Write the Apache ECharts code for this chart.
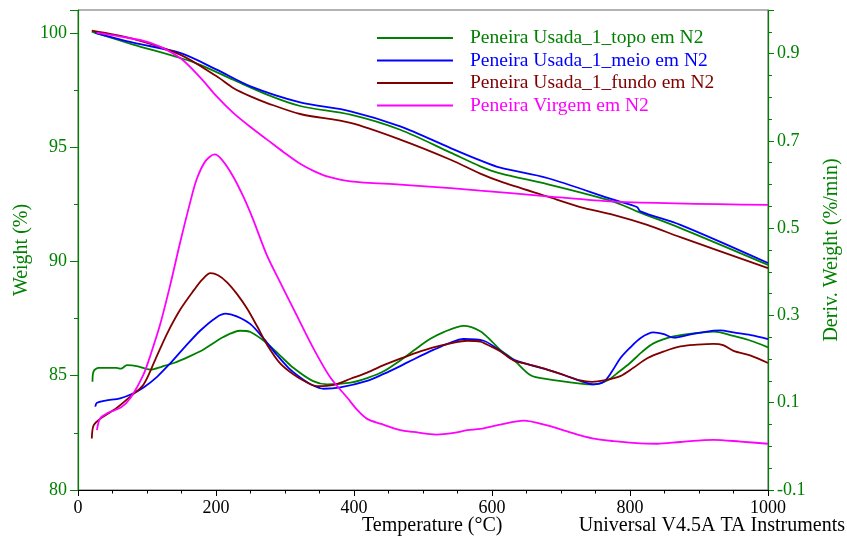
<!DOCTYPE html>
<html>
<head>
<meta charset="utf-8">
<script src="https://cdn.jsdelivr.net/npm/echarts@6/dist/echarts.min.js"></script>
<style>
  html, body { margin: 0; padding: 0; background: #fff; }
  #chart { width: 847px; height: 542px; }
</style>
</head>
<body>
<div id="chart"></div>
<script>
// TGA runs in N2: weight (%) on the left axis, derivative weight (%/min) on the right axis.
const seriesNames = [
  'Peneira Usada_1_topo em N2',
  'Peneira Usada_1_meio em N2',
  'Peneira Usada_1_fundo em N2',
  'Peneira Virgem em N2'
];
const seriesColors = ['#008000', '#0000ff', '#800000', '#ff00ff'];

// [temperature °C, weight %]
const topoWeight = [[20,100.05],[25,100.0],[80,99.49],[148,98.9],[177,98.6],[225,97.95],[274,97.3],[322,96.8],[395,96.42],[467,95.76],[540,94.76],[583,94.16],[612,93.85],[680,93.38],[776,92.62],[810,92.19],[873,91.46],[1000,89.85]];
const meioWeight = [[25,100.0],[80,99.57],[148,99.12],[201,98.39],[250,97.66],[322,96.96],[395,96.57],[467,95.91],[540,94.96],[583,94.42],[612,94.1],[680,93.65],[776,92.7],[810,92.38],[815,92.19],[873,91.6],[1000,89.93]];
const fundoWeight = [[20,100.1],[80,99.74],[148,99.05],[201,98.1],[225,97.59],[250,97.22],[274,96.93],[322,96.45],[395,96.06],[467,95.33],[540,94.45],[583,93.84],[612,93.5],[680,92.84],[728,92.38],[776,92.04],[825,91.6],[873,91.06],[1000,89.71]];
const virgemWeight = [[27,100.0],[60,99.85],[105,99.56],[148,98.9],[177,98.05],[201,97.22],[225,96.5],[250,95.88],[274,95.33],[298,94.78],[322,94.27],[342,93.95],[361,93.72],[395,93.5],[467,93.36],[540,93.21],[583,93.1],[680,92.85],[776,92.62],[1000,92.47]];

// [temperature °C, deriv. weight %/min]
const topoDeriv = [[21,0.148],[22.6,0.172],[30,0.18],[56,0.18],[62,0.178],[71,0.186],[85,0.184],[105,0.176],[122,0.183],[139,0.191],[160,0.205],[182,0.222],[210,0.25],[235,0.265],[250,0.262],[274,0.236],[293,0.208],[312,0.18],[340,0.15],[361,0.142],[395,0.146],[420,0.157],[443,0.172],[467,0.197],[491,0.225],[510,0.246],[530,0.262],[559,0.276],[583,0.264],[600,0.24],[612,0.221],[631,0.199],[656,0.163],[680,0.154],[728,0.144],[747,0.142],[767,0.151],[785,0.172],[800,0.191],[817,0.216],[834,0.236],[863,0.252],[892,0.259],[921,0.263],[931,0.261],[950,0.253],[975,0.242],[1000,0.227]];
const meioDeriv = [[25,0.091],[27.5,0.1],[40,0.105],[61,0.11],[78,0.12],[95,0.135],[115,0.16],[134,0.191],[155,0.228],[177,0.265],[200,0.295],[214,0.304],[230,0.298],[250,0.28],[270,0.245],[288,0.21],[305,0.18],[322,0.158],[340,0.14],[356,0.132],[380,0.135],[419,0.15],[443,0.166],[467,0.184],[491,0.203],[515,0.221],[537,0.236],[559,0.246],[588,0.242],[612,0.219],[631,0.199],[655,0.187],[680,0.176],[705,0.163],[728,0.15],[747,0.142],[762,0.148],[774,0.172],[786,0.202],[800,0.226],[815,0.248],[834,0.261],[849,0.257],[863,0.249],[892,0.258],[921,0.265],[931,0.266],[950,0.261],[975,0.255],[1000,0.246]];
const fundoDeriv = [[20,0.018],[22.6,0.048],[32,0.063],[56,0.088],[75,0.113],[95,0.142],[112,0.199],[129,0.258],[148,0.313],[168,0.358],[180,0.382],[192,0.397],[203,0.392],[216,0.376],[230,0.35],[245,0.316],[260,0.274],[274,0.233],[293,0.19],[312,0.165],[330,0.148],[346,0.138],[371,0.141],[395,0.155],[419,0.169],[443,0.186],[467,0.201],[491,0.215],[515,0.227],[540,0.236],[564,0.242],[583,0.24],[597,0.23],[612,0.218],[631,0.197],[655,0.187],[680,0.176],[705,0.163],[728,0.151],[745,0.148],[762,0.151],[786,0.161],[805,0.18],[825,0.202],[850,0.218],[873,0.229],[897,0.233],[921,0.235],[935,0.232],[950,0.219],[975,0.208],[1000,0.191]];
const virgemDeriv = [[27.5,0.037],[32,0.064],[45,0.078],[62,0.089],[76,0.111],[95,0.165],[105,0.209],[119,0.279],[134,0.372],[148,0.467],[163,0.562],[172,0.612],[184,0.652],[198,0.669],[209,0.656],[225,0.618],[240,0.571],[254,0.519],[274,0.437],[293,0.376],[317,0.3],[341,0.225],[366,0.157],[390,0.112],[405,0.083],[419,0.063],[438,0.052],[467,0.037],[486,0.033],[520,0.027],[545,0.031],[564,0.037],[583,0.04],[612,0.05],[646,0.059],[680,0.048],[705,0.036],[728,0.025],[750,0.017],[776,0.012],[805,0.008],[839,0.006],[873,0.01],[921,0.015],[960,0.011],[1000,0.006]];

const weightSets = [topoWeight, meioWeight, fundoWeight, virgemWeight];
const derivSets = [topoDeriv, meioDeriv, fundoDeriv, virgemDeriv];

const serifFont = '"Liberation Serif", "DejaVu Serif", serif';
const axisGreen = '#008000';

function lineSeries(name, color, data, yAxisIndex) {
  return {
    name: name,
    type: 'line',
    yAxisIndex: yAxisIndex,
    data: data,
    smooth: 0.3,
    symbol: 'none',
    lineStyle: { color: color, width: 1.8 },
    itemStyle: { color: color },
    emphasis: { disabled: true }
  };
}

const series = [];
seriesNames.forEach((n, i) => series.push(lineSeries(n, seriesColors[i], weightSets[i], 0)));
seriesNames.forEach((n, i) => series.push(lineSeries(n, seriesColors[i], derivSets[i], 1)));

const chart = echarts.init(document.getElementById('chart'), null, { renderer: 'canvas' });
chart.setOption({
  animation: false,
  backgroundColor: '#fff',
  grid: {
    left: 78, right: 79, top: 10, bottom: 52,
    outerBoundsMode: 'none',
    show: true, borderColor: '#666', borderWidth: 1, backgroundColor: 'transparent'
  },
  legend: {
    orient: 'vertical',
    left: 372, top: 23,
    itemWidth: 76, itemHeight: 2, itemGap: 2.5,
    icon: 'rect',
    textStyle: { fontFamily: serifFont, fontSize: 19.5, lineHeight: 20, padding: [0, 0, 0, 12] },
    data: seriesNames.map((n, i) => ({ name: n, itemStyle: { color: seriesColors[i] }, textStyle: { color: seriesColors[i] } })),
    selectedMode: false
  },
  xAxis: {
    type: 'value', min: 0, max: 1000, interval: 200,
    axisLine: { onZero: false, lineStyle: { color: '#000', width: 1.2 } },
    axisTick: { show: true, length: 6, lineStyle: { color: '#000' } },
    minorTick: { show: true, splitNumber: 4, length: 3.5, lineStyle: { color: '#000' } },
    splitLine: { show: false },
    axisLabel: { color: '#000', fontFamily: serifFont, fontSize: 18, margin: 9, formatter: v => String(v) }
  },
  yAxis: [
    {
      type: 'value', min: 80, max: 101, interval: 5, position: 'left',
      name: 'Weight (%)', nameLocation: 'middle', nameGap: 46, nameRotate: 90, nameMoveOverlap: false,
      nameTextStyle: { color: axisGreen, fontFamily: serifFont, fontSize: 20 },
      axisLine: { show: true, lineStyle: { color: axisGreen, width: 1.2 } },
      axisTick: { show: true, length: 8, lineStyle: { color: axisGreen } },
      minorTick: { show: true, splitNumber: 2, length: 4, lineStyle: { color: axisGreen } },
      splitLine: { show: false },
      axisLabel: {
        color: axisGreen, fontFamily: serifFont, fontSize: 18, margin: 11,
        formatter: v => (v % 5 === 0 ? String(v) : '')
      }
    },
    {
      type: 'value', min: -0.1, max: 1.0, interval: 0.2, position: 'right',
      name: 'Deriv. Weight (%/min)', nameLocation: 'middle', nameGap: 54, nameRotate: 90,
      nameTextStyle: { color: axisGreen, fontFamily: serifFont, fontSize: 20 },
      axisLine: { show: true, lineStyle: { color: axisGreen, width: 1.2 } },
      axisTick: { show: true, length: 6, lineStyle: { color: axisGreen } },
      minorTick: { show: true, splitNumber: 4, length: 4, lineStyle: { color: axisGreen } },
      splitLine: { show: false },
      axisLabel: {
        color: axisGreen, fontFamily: serifFont, fontSize: 18, margin: 9,
        formatter: v => {
          const k = (v + 0.1) / 0.2;
          return Math.abs(k - Math.round(k)) < 1e-6 && v < 0.95 ? v.toFixed(1) : '';
        }
      }
    }
  ],
  graphic: [
    {
      type: 'text', left: 362, top: 516,
      style: { text: 'Temperature (°C)', fill: '#000', font: '20px ' + serifFont }
    },
    {
      type: 'text', right: 2, top: 516,
      style: { text: 'Universal V4.5A TA Instruments', fill: '#000', font: '20px ' + serifFont }
    }
  ],
  series: series
});
</script>
</body>
</html>
